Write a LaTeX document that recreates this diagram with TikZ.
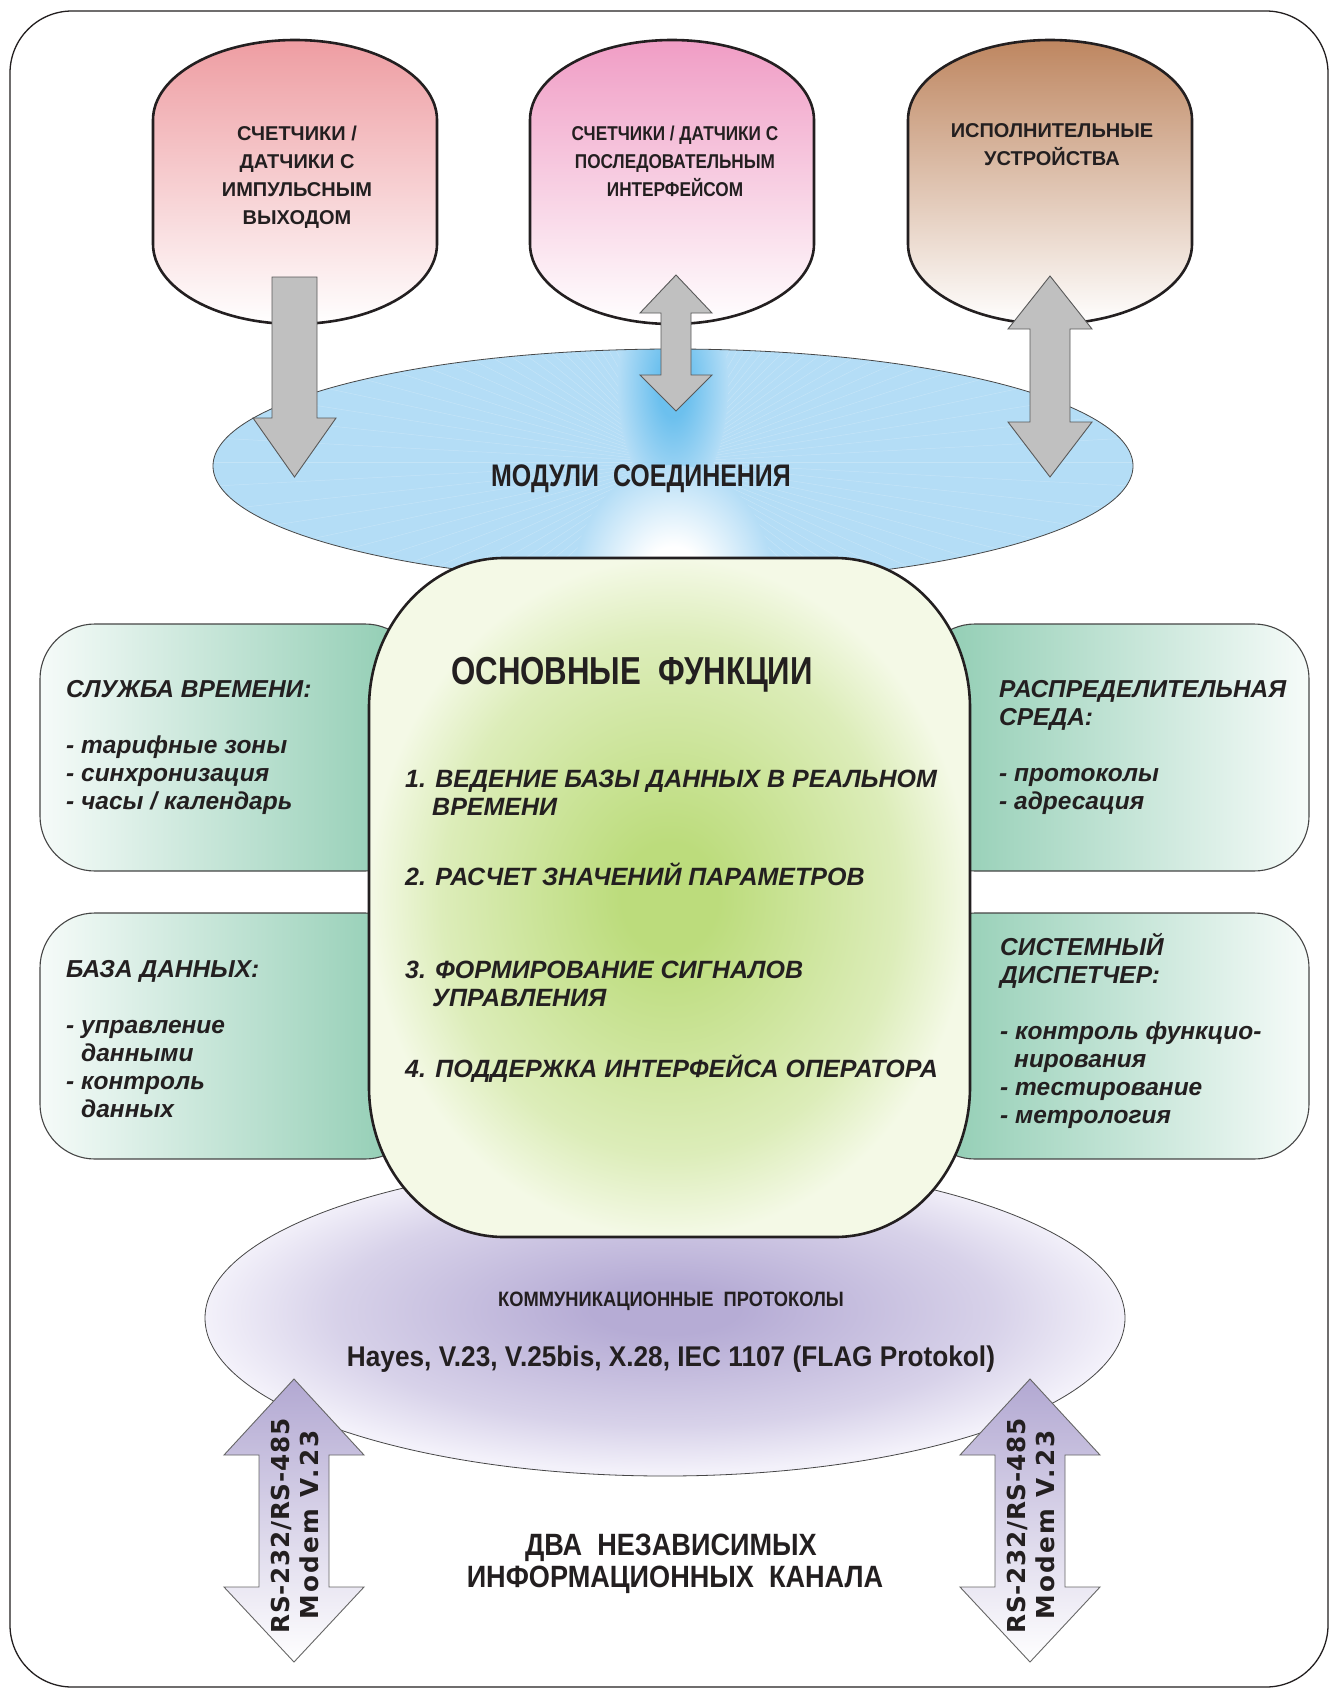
\documentclass[tikz,border=0pt]{standalone}
\usepackage{fontspec}
\setmainfont{Liberation Sans}
\newfontfamily\condfont[FakeStretch=0.80]{Liberation Sans}
\newfontfamily\podcond[FakeStretch=0.86]{Liberation Sans}
\newfontfamily\semicond[FakeStretch=0.88]{Liberation Sans}
\newfontfamily\protofont[FakeStretch=0.92]{Liberation Sans}
\newfontfamily\rsfont[LetterSpace=3]{DejaVu Sans}
\newfontfamily\modemfont[LetterSpace=10]{DejaVu Sans}

\definecolor{ink}{RGB}{35,31,32}
\definecolor{outline}{RGB}{70,70,70}
\definecolor{podA}{RGB}{238,157,162}
\definecolor{podB}{RGB}{240,157,197}
\definecolor{podC}{RGB}{190,134,96}
\definecolor{blueBase}{RGB}{180,221,246}
\definecolor{blueDark}{RGB}{108,192,238}
\definecolor{greenC}{RGB}{188,220,124}
\definecolor{greenE}{RGB}{244,249,230}
\definecolor{tealD}{RGB}{140,203,176}
\definecolor{tealL}{RGB}{246,251,249}
\definecolor{purC}{RGB}{182,172,213}
\definecolor{purE}{RGB}{243,241,250}
\definecolor{purArrow}{RGB}{178,168,210}
\definecolor{arrowGray}{RGB}{192,192,192}

% radial shadings: the shaded path's bounding box spans -25bp..25bp
\pgfdeclareradialshading{greenglow}{\pgfpoint{0bp}{0bp}}{color(0bp)=(greenC); color(4bp)=(greenC); color(19bp)=(greenC!42!greenE); color(25bp)=(greenE); color(50bp)=(greenE)}
\pgfdeclareradialshading{purpleglow}{\pgfpoint{0bp}{1.5bp}}{color(0bp)=(purC); color(4bp)=(purC); color(18bp)=(purC!45!purE); color(25bp)=(purE); color(50bp)=(purE)}
\pgfdeclareradialshading{whiteglow}{\pgfpoint{0bp}{0bp}}{color(0bp)=(white); color(8bp)=(white); color(25bp)=(blueBase); color(50bp)=(blueBase)}
\pgfdeclareradialshading{darkglow}{\pgfpoint{0bp}{0bp}}{color(0bp)=(blueDark); color(7bp)=(blueDark); color(25bp)=(blueBase); color(50bp)=(blueBase)}

\begin{document}
\begin{tikzpicture}[x=1pt,y=-1pt,
  frameline/.style={draw=ink, line width=1.3pt},
  boldline/.style={draw=ink, line width=2.6pt},
  thinline/.style={draw=outline, line width=0.8pt},
  panel/.style={draw=outline, line width=1.1pt, rounded corners=55pt},
  grayarrow/.style={fill=arrowGray, draw=black!65, line width=0.9pt},
  purarrow/.style={top color=purArrow, bottom color=white, draw=black!60, line width=0.9pt},
  podtext/.style={anchor=base, inner sep=0pt, text=ink, font=\fontsize{20}{24}\selectfont\bfseries},
  podtextB/.style={anchor=base, inner sep=0pt, text=ink, font=\podcond\fontsize{20}{24}\selectfont\bfseries},
  sidetext/.style={anchor=base west, inner sep=0pt, text=ink, font=\fontsize{24.5}{28}\selectfont\bfseries\itshape},
  listtext/.style={anchor=base west, inner sep=0pt, text=ink, font=\fontsize{25}{28}\selectfont\bfseries\itshape},
  condtitle/.style={anchor=base, inner sep=0pt, text=ink, font=\condfont\bfseries},
  rottext/.style={anchor=base, inner sep=0pt, rotate=90, text=ink}
]
\useasboundingbox (0,0) rectangle (1335,1694);
\fill[white] (0,0) rectangle (1335,1694);

% outer frame
\draw[frameline, rounded corners=62pt] (10,11) rectangle (1328,1687);

% communication protocols ellipse
\shade[shading=purpleglow, thinline] (665,1318) ellipse [x radius=460, y radius=158];

% connection modules ellipse with a radial burst
\begin{scope}
  \clip (673,466) ellipse [x radius=460, y radius=117];
  \fill[blueBase] (200,340) rectangle (1140,590);
  \foreach \a in {0,3,...,357}
    \draw[white, opacity=0.22, line width=0.5pt] (673,462) -- ++(\a:600);
  \shade[shading=darkglow] (673,385) ellipse [x radius=55, y radius=115];
  \shade[shading=whiteglow] (673,585) ellipse [x radius=100, y radius=120];
\end{scope}
\draw[thinline] (673,466) ellipse [x radius=460, y radius=117];

% side panels
\shade[panel, left color=tealL, right color=tealD] (420,624) -- (40,624) -- (40,871) -- (420,871) -- cycle;
\shade[panel, left color=tealL, right color=tealD] (420,913) -- (40,913) -- (40,1159) -- (420,1159) -- cycle;
\shade[panel, left color=tealD, right color=tealL] (920,624) -- (1309,624) -- (1309,871) -- (920,871) -- cycle;
\shade[panel, left color=tealD, right color=tealL] (920,913) -- (1309,913) -- (1309,1159) -- (920,1159) -- cycle;

% central block of main functions
\shade[shading=greenglow, boldline]
  (504,558) -- (835,558)
  arc[start angle=270, end angle=360, x radius=135, y radius=150] -- (970,1087)
  arc[start angle=0, end angle=90, x radius=135, y radius=150] -- (504,1237)
  arc[start angle=90, end angle=180, x radius=135, y radius=150] -- (369,708)
  arc[start angle=180, end angle=270, x radius=135, y radius=150] -- cycle;

% device pods
\foreach \cx/\col in {295/podA, 672/podB, 1050/podC}{
  \shade[boldline, top color=\col, bottom color=white]
    (\cx-142,120) arc[start angle=180, end angle=360, x radius=142, y radius=80]
    -- (\cx+142,244) arc[start angle=0, end angle=180, x radius=142, y radius=80] -- cycle;
}

% grey block arrows
\draw[grayarrow] (272,277) -- (317,277) -- (317,418) -- (336,418) -- (294.5,477) -- (253,418) -- (272,418) -- cycle;
\draw[grayarrow] (676,275) -- (712,313) -- (691,313) -- (691,375) -- (712,375) -- (676,411) -- (640,375) -- (661,375) -- (661,313) -- (640,313) -- cycle;
\draw[grayarrow] (1050,276) -- (1092,329) -- (1070,329) -- (1070,422) -- (1092,422) -- (1050,477) -- (1008,422) -- (1030,422) -- (1030,329) -- (1008,329) -- cycle;

% purple channel arrows
\shade[purarrow] (294,1379) -- (364,1455) -- (329,1455) -- (329,1587) -- (364,1587) -- (294,1662) -- (224,1587) -- (259,1587) -- (259,1455) -- (224,1455) -- cycle;
\shade[purarrow] (1030,1379) -- (1100,1455) -- (1065,1455) -- (1065,1587) -- (1100,1587) -- (1030,1662) -- (960,1587) -- (995,1587) -- (995,1455) -- (960,1455) -- cycle;

% pod labels
\node[podtext] (pa1) at (297,140) {СЧЕТЧИКИ /};
\node[podtext] (pa2) at (297,168) {ДАТЧИКИ С};
\node[podtext] (pa3) at (297,196) {ИМПУЛЬСНЫМ};
\node[podtext] (pa4) at (297,224) {ВЫХОДОМ};
\node[podtextB] (pb1) at (675,140) {СЧЕТЧИКИ / ДАТЧИКИ С};
\node[podtextB] (pb2) at (675,168) {ПОСЛЕДОВАТЕЛЬНЫМ};
\node[podtextB] (pb3) at (675,196) {ИНТЕРФЕЙСОМ};
\node[podtext] (pc1) at (1052,137) {ИСПОЛНИТЕЛЬНЫЕ};
\node[podtext] (pc2) at (1052,165) {УСТРОЙСТВА};

% ellipse titles
\node[condtitle, font=\condfont\fontsize{31.2}{34}\selectfont\bfseries] (mod) at (641,486) {МОДУЛИ\ \ СОЕДИНЕНИЯ};
\node[anchor=base, inner sep=0pt, text=ink, font=\semicond\fontsize{20.8}{24}\selectfont\bfseries] (kom) at (671,1306) {КОММУНИКАЦИОННЫЕ\ \ ПРОТОКОЛЫ};
\node[anchor=base, inner sep=0pt, text=ink, font=\protofont\fontsize{28.5}{32}\selectfont\bfseries] (hay) at (671,1366) {Hayes, V.23, V.25bis, X.28, IEC 1107 (FLAG Protokol)};

% central block text
\node[condtitle, font=\condfont\fontsize{39}{44}\selectfont\bfseries] (osn) at (632,684) {ОСНОВНЫЕ\ \ ФУНКЦИИ};
\node[listtext] (f1) at (405,787.5) {1. ВЕДЕНИЕ БАЗЫ ДАННЫХ В РЕАЛЬНОМ};
\node[listtext] (f1b) at (432,815.5) {ВРЕМЕНИ};
\node[listtext] (f2) at (405,885.5) {2. РАСЧЕТ ЗНАЧЕНИЙ ПАРАМЕТРОВ};
\node[listtext] (f3) at (405,978.5) {3. ФОРМИРОВАНИЕ СИГНАЛОВ};
\node[listtext] (f3b) at (432,1006.5) {УПРАВЛЕНИЯ};
\node[listtext] (f4) at (405,1077.5) {4. ПОДДЕРЖКА ИНТЕРФЕЙСА ОПЕРАТОРА};

% left panels
\node[sidetext] (lt1) at (66,697) {СЛУЖБА ВРЕМЕНИ:};
\node[sidetext] (lt2) at (66,753) {- тарифные зоны};
\node[sidetext] (lt3) at (66,781) {- синхронизация};
\node[sidetext] (lt4) at (66,809) {- часы / календарь};
\node[sidetext] (lb1) at (66,977) {БАЗА ДАННЫХ:};
\node[sidetext] (lb2) at (66,1033) {- управление};
\node[sidetext] (lb3) at (81,1061) {данными};
\node[sidetext] (lb4) at (66,1089) {- контроль};
\node[sidetext] (lb5) at (81,1117) {данных};

% right panels
\node[sidetext] (rt1) at (999,697) {РАСПРЕДЕЛИТЕЛЬНАЯ};
\node[sidetext] (rt2) at (999,725) {СРЕДА:};
\node[sidetext] (rt3) at (999,781) {- протоколы};
\node[sidetext] (rt4) at (999,809) {- адресация};
\node[sidetext] (rb1) at (1000,955) {СИСТЕМНЫЙ};
\node[sidetext] (rb2) at (1000,983) {ДИСПЕТЧЕР:};
\node[sidetext] (rb3) at (1000,1039) {- контроль функцио-};
\node[sidetext] (rb4) at (1014,1067) {нирования};
\node[sidetext] (rb5) at (1000,1095) {- тестирование};
\node[sidetext] (rb6) at (1000,1123) {- метрология};

% channel labels
\node[anchor=base, inner sep=0pt, text=ink, font=\semicond\fontsize{30.8}{34}\selectfont\bfseries] (dva1) at (671,1555) {ДВА\ \ НЕЗАВИСИМЫХ};
\node[anchor=base, inner sep=0pt, text=ink, font=\semicond\fontsize{30.8}{34}\selectfont\bfseries] (dva2) at (675,1587) {ИНФОРМАЦИОННЫХ\ \ КАНАЛА};
\node[rottext, font=\rsfont\fontsize{24.7}{28}\selectfont\bfseries] (rsA) at (289,1526) {RS-232/RS-485};
\node[rottext, font=\modemfont\fontsize{24.7}{28}\selectfont\bfseries] (mdA) at (318,1525) {Modem V.23};
\node[rottext, font=\rsfont\fontsize{24.7}{28}\selectfont\bfseries] (rsB) at (1025,1526) {RS-232/RS-485};
\node[rottext, font=\modemfont\fontsize{24.7}{28}\selectfont\bfseries] (mdB) at (1054,1525) {Modem V.23};
\end{tikzpicture}
\end{document}
